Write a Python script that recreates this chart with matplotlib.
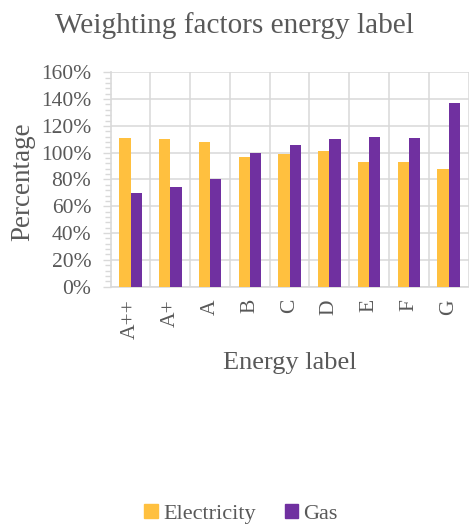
import matplotlib
matplotlib.use("Agg")
import matplotlib.pyplot as plt
import numpy as np
from matplotlib.ticker import MultipleLocator, FuncFormatter
from matplotlib.patches import Patch

labels = ["A++", "A+", "A", "B", "C", "D", "E", "F", "G"]
electricity = [111, 110, 108, 97, 99, 101, 93, 93, 88]
gas = [70, 74, 80, 100, 106, 110, 112, 111, 137]

ELEC_COLOR = "#FFC03F"
GAS_COLOR = "#7030A0"
TEXT_COLOR = "#595959"
GRID_COLOR = "#D9D9D9"

plt.rcParams["font.family"] = ["Liberation Serif", "DejaVu Serif"]

W, H = 469, 527
fig = plt.figure(figsize=(W / 100, H / 100), dpi=100)
left, right, top, bottom = 110.7, 468.5, 72.3, 286.6
ax = fig.add_axes([left / W, 1 - bottom / H, (right - left) / W, (bottom - top) / H])

x = np.arange(len(labels))
bw = 0.285
ax.bar(x - bw / 2, electricity, bw, color=ELEC_COLOR, zorder=3)
ax.bar(x + bw / 2, gas, bw, color=GAS_COLOR, zorder=3)

ax.set_xlim(-0.5, len(labels) - 0.5)
ax.set_ylim(0, 160)
ax.yaxis.set_major_locator(MultipleLocator(20))
ax.yaxis.set_minor_locator(MultipleLocator(4))
ax.yaxis.set_major_formatter(FuncFormatter(lambda v, p: f"{v:.0f}%"))

# horizontal grid at major ticks, vertical grid at category boundaries
ax.grid(axis="y", color=GRID_COLOR, linewidth=1.1, zorder=0)
for b in np.arange(0.5, len(labels) - 0.5 + 1e-9, 1.0):
    ax.axvline(b, color=GRID_COLOR, linewidth=1.1, zorder=0)

ax.set_xticks(x)
ax.set_xticklabels(labels, rotation=90, fontsize=15.5, color=TEXT_COLOR)
ax.tick_params(axis="x", length=0, pad=9)
ax.tick_params(axis="y", which="major", length=6, width=1, color=GRID_COLOR,
               labelsize=15.5, labelcolor=TEXT_COLOR, pad=8)
ax.tick_params(axis="y", which="minor", length=4, width=1, color=GRID_COLOR)

for s in ["top", "right"]:
    ax.spines[s].set_visible(False)
for s in ["left", "bottom"]:
    ax.spines[s].set_color(GRID_COLOR)
    ax.spines[s].set_linewidth(1.2)

fig.text(0.5, 1 - 26 / H, "Weighting factors energy label", ha="center", va="center",
         fontsize=21.1, color=TEXT_COLOR)
fig.text(23 / W, 1 - 182 / H, "Percentage", rotation=90, ha="center", va="center",
         fontsize=19.5, color=TEXT_COLOR)
fig.text(290 / W, 1 - 363 / H, "Energy label", ha="center", va="center",
         fontsize=19, color=TEXT_COLOR)

handles = [Patch(color=ELEC_COLOR, label="Electricity"), Patch(color=GAS_COLOR, label="Gas")]
fig.legend(handles=handles, loc="center", bbox_to_anchor=(241 / W, 1 - 514 / H),
           ncol=2, frameon=False, fontsize=16, labelcolor=TEXT_COLOR,
           handlelength=0.6, handleheight=0.6, handletextpad=0.25, columnspacing=1.3)

fig.savefig("out.png", dpi=100)
